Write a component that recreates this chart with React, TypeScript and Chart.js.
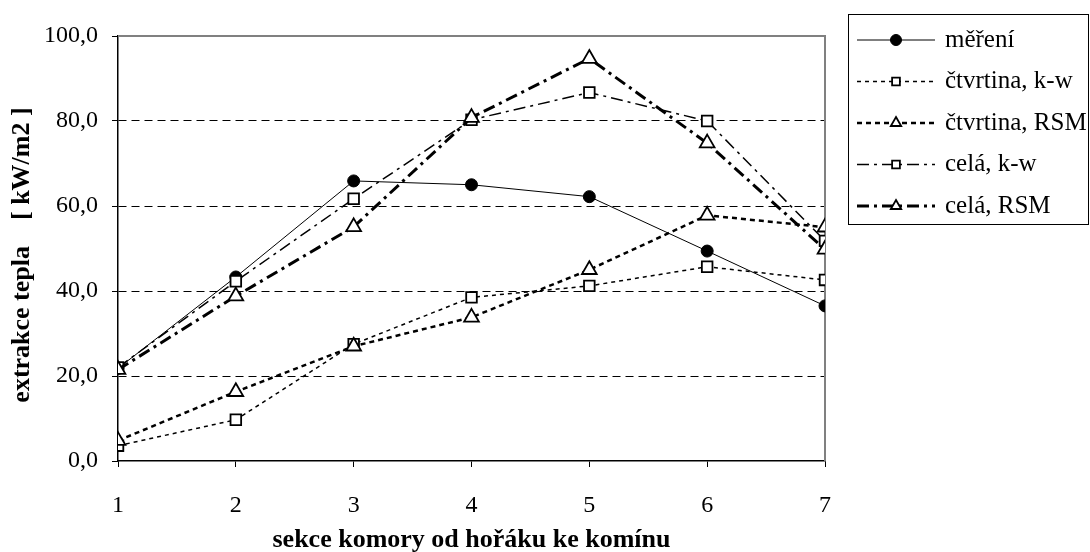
import React, { useEffect, useRef } from "react";
import { Chart, registerables } from "chart.js";
import { drawPoint } from "chart.js/helpers";

Chart.register(...registerables);

// ---- data ----
const categories = [1, 2, 3, 4, 5, 6, 7];
const mereni = [21.8, 43.3, 65.9, 65.0, 62.2, 49.4, 36.5];
const ctvrtinaKw = [3.6, 9.7, 27.5, 38.5, 41.2, 45.7, 42.6];
const ctvrtinaRsm = [4.8, 16.3, 27.0, 33.8, 45.0, 57.8, 55.0];
const celaKw = [22.0, 42.3, 61.7, 80.3, 86.7, 80.0, 51.8];
const celaRsm = [21.5, 38.8, 55.1, 80.8, 94.7, 74.8, 49.8];
const seriesNames = ["měření", "čtvrtina, k-w", "čtvrtina, RSM", "celá, k-w", "celá, RSM"];
const yMin = 0;
const yMax = 100;
const yStep = 20;
const xTitle = "sekce komory od hořáku ke komínu";
const yTitle = "extrakce tepla    [ kW/m2 ]  ";

const FONT = "'Liberation Serif', 'Times New Roman', serif";

const toPoints = (vals: number[]) => categories.map((c, i) => ({ x: c, y: vals[i] }));

const frameAndLegend = {
  id: "frameAndLegend",
  beforeDatasetsDraw(chart: any) {
    const { ctx, chartArea } = chart;
    ctx.save();
    ctx.strokeStyle = "#808080";
    ctx.lineWidth = 2;
    ctx.beginPath();
    ctx.moveTo(chartArea.left, chartArea.top);
    ctx.lineTo(chartArea.right, chartArea.top);
    ctx.lineTo(chartArea.right, chartArea.bottom);
    ctx.stroke();
    ctx.restore();
  },
  afterDraw(chart: any) {
    const { ctx } = chart;
    ctx.save();
    ctx.strokeStyle = "#000";
    ctx.lineWidth = 1;
    ctx.strokeRect(848.5, 14.5, 240, 210);
    chart.data.datasets.forEach((ds: any, i: number) => {
      const y = 40 + i * 41.5;
      ctx.save();
      ctx.strokeStyle = "#000";
      ctx.lineWidth = ds.borderWidth;
      ctx.setLineDash(ds.borderDash || []);
      ctx.beginPath();
      ctx.moveTo(857, y);
      ctx.lineTo(935, y);
      ctx.stroke();
      ctx.restore();
      ctx.save();
      ctx.fillStyle = ds.pointBackgroundColor;
      ctx.strokeStyle = "#000";
      ctx.lineWidth = ds.pointBorderWidth;
      drawPoint(
        ctx,
        { pointStyle: ds.pointStyle, rotation: 0, radius: ds.legendRadius, borderWidth: ds.pointBorderWidth },
        896,
        y
      );
      ctx.restore();
      ctx.fillStyle = "#000";
      ctx.font = `25px ${FONT}`;
      ctx.textBaseline = "middle";
      ctx.textAlign = "left";
      ctx.fillText(ds.label, 945, y);
    });
    ctx.restore();
  },
};

export default function App() {
  const ref = useRef<HTMLCanvasElement | null>(null);

  useEffect(() => {
    document.body.style.margin = "0";
    const canvas = ref.current!;
    const chart = new Chart(canvas, {
      type: "line",
      data: {
        datasets: [
          {
            label: seriesNames[0],
            data: toPoints(mereni),
            borderColor: "#000",
            borderWidth: 1,
            borderDash: [],
            pointStyle: "circle",
            pointRadius: 6,
            pointBackgroundColor: "#000",
            pointBorderColor: "#000",
            pointBorderWidth: 1,
            legendRadius: 5.5,
            tension: 0,
            order: 5,
          } as any,
          {
            label: seriesNames[1],
            data: toPoints(ctvrtinaKw),
            borderColor: "#000",
            borderWidth: 1.5,
            borderDash: [4, 4],
            pointStyle: "rect",
            pointRadius: 7.5,
            pointBackgroundColor: "#fff",
            pointBorderColor: "#000",
            pointBorderWidth: 1.8,
            legendRadius: 5.5,
            tension: 0,
            order: 4,
          } as any,
          {
            label: seriesNames[2],
            data: toPoints(ctvrtinaRsm),
            borderColor: "#000",
            borderWidth: 2.5,
            borderDash: [5, 4],
            pointStyle: "triangle",
            pointRadius: 8.5,
            pointBackgroundColor: "#fff",
            pointBorderColor: "#000",
            pointBorderWidth: 1.8,
            legendRadius: 6,
            tension: 0,
            order: 3,
          } as any,
          {
            label: seriesNames[3],
            data: toPoints(celaKw),
            borderColor: "#000",
            borderWidth: 1.5,
            borderDash: [12, 5, 3, 5],
            pointStyle: "rect",
            pointRadius: 7.5,
            pointBackgroundColor: "#fff",
            pointBorderColor: "#000",
            pointBorderWidth: 1.8,
            legendRadius: 5.5,
            tension: 0,
            order: 2,
          } as any,
          {
            label: seriesNames[4],
            data: toPoints(celaRsm),
            borderColor: "#000",
            borderWidth: 3,
            borderDash: [12, 5, 3, 5],
            pointStyle: "triangle",
            pointRadius: 8.5,
            pointBackgroundColor: "#fff",
            pointBorderColor: "#000",
            pointBorderWidth: 1.8,
            legendRadius: 6,
            tension: 0,
            order: 1,
          } as any,
        ],
      },
      options: {
        responsive: false,
        animation: false,
        events: [],
        layout: { padding: { top: 36, right: 265, left: 0, bottom: 0 } },
        plugins: { legend: { display: false }, tooltip: { enabled: false } },
        scales: {
          x: {
            type: "linear",
            min: categories[0],
            max: categories[categories.length - 1],
            afterFit: (scale: any) => {
              scale.height = 91;
            },
            ticks: {
              stepSize: 1,
              color: "#000",
              padding: 24,
              font: { family: FONT, size: 24 },
              callback: (v: any) => String(v),
            },
            grid: {
              drawOnChartArea: false,
              drawTicks: true,
              tickLength: 6,
              tickColor: "#000",
              tickWidth: 1,
            },
            border: { display: true, color: "#000", width: 1.5 },
            title: {
              display: true,
              text: xTitle,
              color: "#000",
              font: { family: FONT, size: 26, weight: "bold", lineHeight: 1 },
              padding: { top: 0, bottom: -1 },
            },
          },
          y: {
            type: "linear",
            min: yMin,
            max: yMax,
            afterFit: (scale: any) => {
              scale.width = 118;
            },
            ticks: {
              stepSize: yStep,
              color: "#000",
              padding: 14,
              font: { family: FONT, size: 24 },
              callback: (v: any) => Number(v).toFixed(1).replace(".", ","),
            },
            grid: {
              drawTicks: true,
              tickLength: 6,
              tickColor: "#000",
              tickWidth: 1,
              tickBorderDash: [],
              lineWidth: 1,
              color: (c: any) =>
                c.tick && (c.tick.value === yMin || c.tick.value === yMax) ? "rgba(0,0,0,0)" : "#000",
            },
            border: { display: true, color: "#000", width: 1.5, dash: [8, 5] },
            title: {
              display: true,
              text: yTitle,
              color: "#000",
              font: { family: FONT, size: 26, weight: "bold", lineHeight: 1.2 },
              padding: { top: 7, bottom: 0 },
            },
          },
        },
      } as any,
      plugins: [frameAndLegend],
    });
    return () => chart.destroy();
  }, []);

  return (
    <div style={{ position: "absolute", left: 0, top: 0, width: 1090, height: 552, background: "#fff" }}>
      <canvas ref={ref} width={1090} height={552} style={{ display: "block" }} />
    </div>
  );
}
